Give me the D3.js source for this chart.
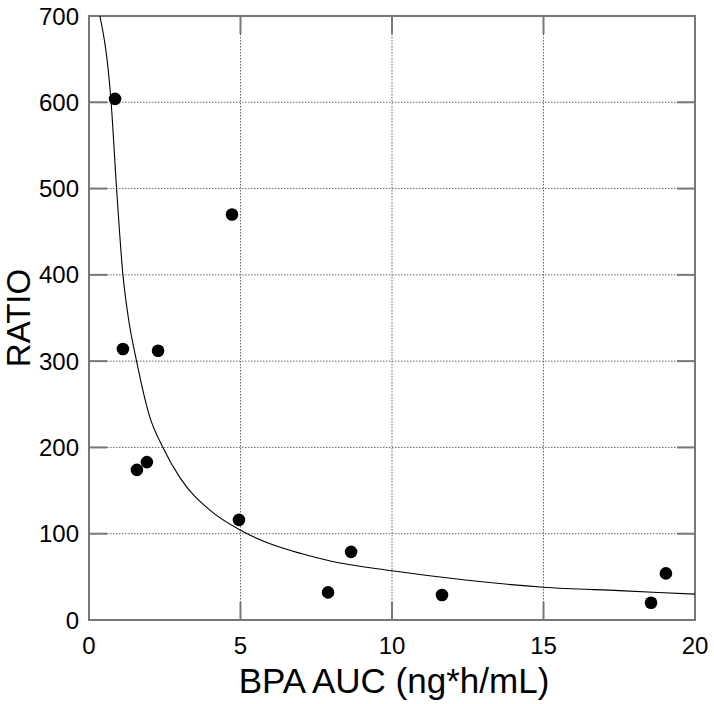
<!DOCTYPE html>
<html><head><meta charset="utf-8">
<script src="https://cdn.jsdelivr.net/npm/d3@7"></script>
<style>body{margin:0;background:#fff}svg{display:block}</style>
</head><body>
<script>
const xTicks = [0, 5, 10, 15, 20];
const yTicks = [0, 100, 200, 300, 400, 500, 600, 700];
const auc   = [0.86, 1.12, 1.58, 1.91, 2.28, 4.72, 4.95, 7.89, 8.65, 11.65, 18.55, 19.04];
const ratio = [604, 314, 174, 183, 312, 470, 116, 32, 79, 29, 20, 54];
const fitX = [0.36, 0.73, 0.91, 1.12, 1.3, 1.57, 2, 2.44, 3, 4, 5, 6, 7, 8, 10, 12.5, 15, 17.5, 20];
const fitY = [700, 600, 500, 400, 350, 300, 236, 200, 165, 127, 104, 88, 77, 68, 57, 46, 38, 34, 30];

const W = 714, H = 704;
const m = {l: 89, r: 695, t: 16, b: 620};
const svg = d3.select("body").append("svg").attr("width", W).attr("height", H);
const x = d3.scaleLinear().domain([0, 20]).range([m.l, m.r]);
const y = d3.scaleLinear().domain([0, 700]).range([m.b, m.t]);
const font = "Liberation Sans, Arial, sans-serif";

// grid
svg.append("g").selectAll("line").data(xTicks.slice(1, -1)).join("line")
  .attr("x1", d => x(d)).attr("x2", d => x(d)).attr("y1", m.t).attr("y2", m.b)
  .attr("stroke", "#666").attr("stroke-width", 1).attr("stroke-dasharray", "1.5,1.5");
svg.append("g").selectAll("line").data(yTicks.slice(1, -1)).join("line")
  .attr("y1", d => y(d)).attr("y2", d => y(d)).attr("x1", m.l).attr("x2", m.r)
  .attr("stroke", "#666").attr("stroke-width", 1).attr("stroke-dasharray", "1.5,1.5");

// inside ticks
const tl = 18;
const tk = svg.append("g").attr("stroke", "#777").attr("stroke-width", 2);
xTicks.slice(1, -1).forEach(d => {
  tk.append("line").attr("x1", x(d)).attr("x2", x(d)).attr("y1", m.b).attr("y2", m.b - tl);
  tk.append("line").attr("x1", x(d)).attr("x2", x(d)).attr("y1", m.t).attr("y2", m.t + tl);
});
yTicks.slice(1, -1).forEach(d => {
  tk.append("line").attr("y1", y(d)).attr("y2", y(d)).attr("x1", m.l).attr("x2", m.l + tl);
  tk.append("line").attr("y1", y(d)).attr("y2", y(d)).attr("x1", m.r).attr("x2", m.r - tl);
});

// frame
svg.append("rect").attr("x", m.l).attr("y", m.t).attr("width", m.r - m.l).attr("height", m.b - m.t)
  .attr("fill", "none").attr("stroke", "#777").attr("stroke-width", 2);

// tick labels
svg.append("g").selectAll("text").data(xTicks).join("text")
  .attr("x", d => x(d)).attr("y", 654).attr("text-anchor", "middle")
  .attr("font-family", font).attr("font-size", 24).text(d => d);
svg.append("g").selectAll("text").data(yTicks).join("text")
  .attr("x", 79).attr("y", d => y(d) + 8.5).attr("text-anchor", "end")
  .attr("font-family", font).attr("font-size", 24).text(d => d);

// axis titles
svg.append("text").attr("x", 394).attr("y", 693).attr("text-anchor", "middle")
  .attr("font-family", font).attr("font-size", 35).text("BPA AUC (ng*h/mL)");
svg.append("text").attr("transform", `translate(30,318) rotate(-90)`)
  .attr("text-anchor", "middle").attr("font-family", font).attr("font-size", 33).text("RATIO");

// fitted curve
svg.append("clipPath").attr("id", "c").append("rect")
  .attr("x", m.l).attr("y", m.t).attr("width", m.r - m.l).attr("height", m.b - m.t);
const line = d3.line().x(d => x(d[0])).y(d => y(d[1])).curve(d3.curveMonotoneX);
svg.append("path").datum(fitX.map((v, i) => [v, fitY[i]]))
  .attr("d", line).attr("fill", "none").attr("stroke", "#000").attr("stroke-width", 1.1)
  .attr("clip-path", "url(#c)");

// points
svg.append("g").selectAll("circle").data(auc.map((v, i) => [v, ratio[i]])).join("circle")
  .attr("cx", d => x(d[0])).attr("cy", d => y(d[1])).attr("r", 6.3).attr("fill", "#000");
</script>
</body></html>
